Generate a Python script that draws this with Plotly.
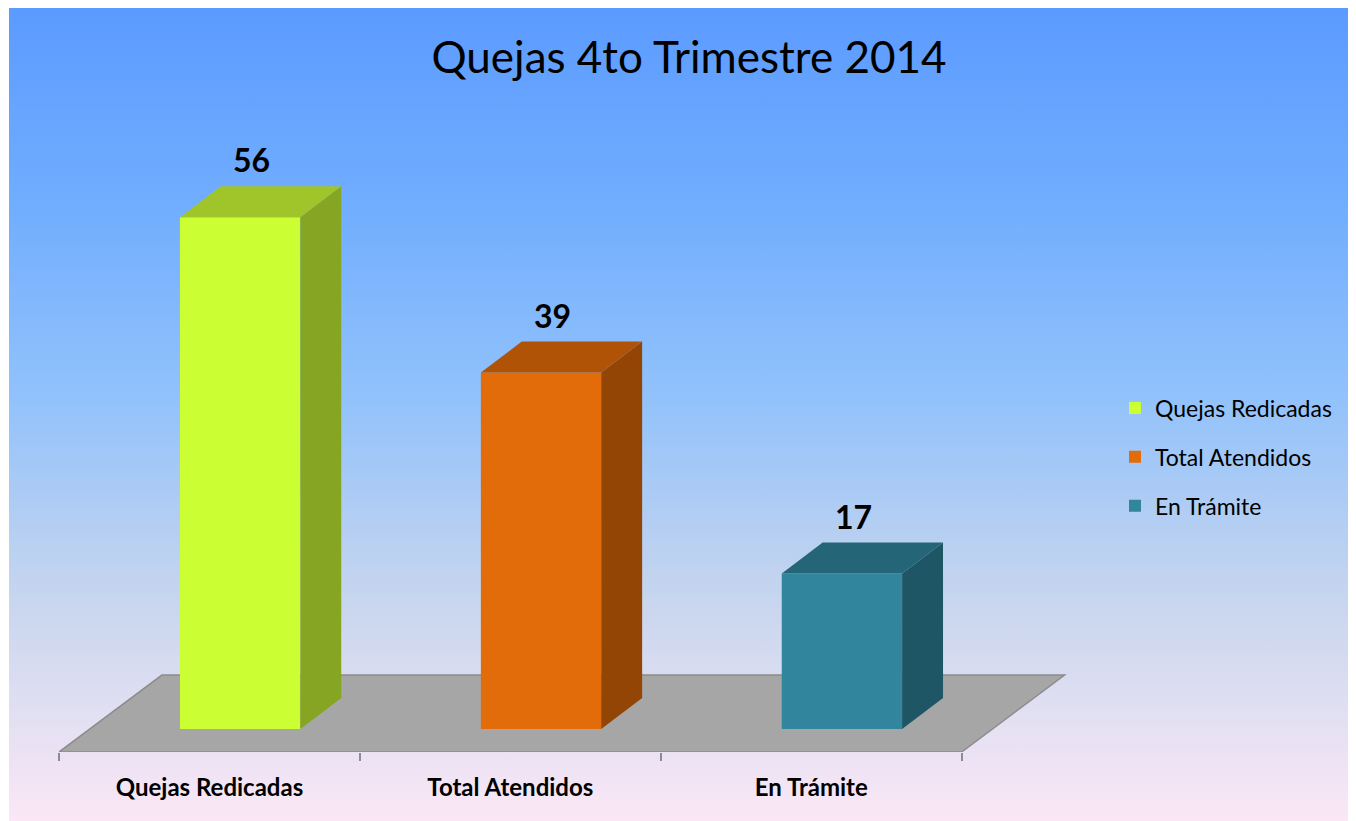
import base64
import plotly.graph_objects as go

# ---------------- data ----------------
categories = ["Quejas Redicadas", "Total Atendidos", "En Trámite"]
values = [56, 39, 17]
title_text = "Quejas 4to Trimestre 2014"

# ---------------- styles ----------------
front_colors = ["#ccff33", "#e36c0a", "#31859c"]
side_colors = ["#86a522", "#934505", "#1f5666"]
top_colors = ["#a0c52a", "#b05306", "#246678"]
FONT = "Lato"

# 3-D look geometry (axis units)
BAR_W = 0.40
BAR_OFFSET = -0.098          # left edge of front face relative to category centre
BASE = 2.52                  # bars stand a little behind the floor's front edge
DX, DY = 0.136, 3.39         # bar depth
FLOOR_DX, FLOOR_DY = 0.342, 8.42
LABEL_DX = 0.14

# page has an 8px body margin, so the figure is laid out in page coords - 8
OFF = 8
W, H = 1356 - OFF, 821 - OFF
ML, MR, MT, MB = 59 - OFF, 289, 68 - OFF, 69
X_RANGE = [-0.5, 2.85]
Y_RANGE = [0, 74.84]

fig = go.Figure()

shapes = []
n = len(categories)
floor_path = (f"M {-0.5},0 L {n - 0.5},0 L {n - 0.5 + FLOOR_DX},{FLOOR_DY} "
              f"L {-0.5 + FLOOR_DX},{FLOOR_DY} Z")
shapes.append(dict(type="path", path=floor_path, xref="x", yref="y",
                   fillcolor="#a6a6a6", line=dict(color="#8c8c8c", width=1.5),
                   layer="below"))

annotations = []
for i, (cat, v) in enumerate(zip(categories, values)):
    fig.add_trace(go.Bar(
        x=[i], y=[v], base=BASE, width=BAR_W, offset=BAR_OFFSET,
        name=cat, legendgroup=cat,
        marker=dict(color=front_colors[i], line=dict(width=0)),
        hovertemplate=f"{cat}: %{{y}}<extra></extra>",
    ))
    x0 = i + BAR_OFFSET
    x1 = x0 + BAR_W
    yb = BASE
    yt = BASE + v
    side = (f"M {x1},{yb} L {x1},{yt} L {x1 + DX},{yt + DY} "
            f"L {x1 + DX},{yb + DY} Z")
    top = (f"M {x0},{yt} L {x1},{yt} L {x1 + DX},{yt + DY} "
           f"L {x0 + DX},{yt + DY} Z")
    shapes.append(dict(type="path", path=side, xref="x", yref="y",
                       fillcolor=side_colors[i], line=dict(width=0), layer="above"))
    shapes.append(dict(type="path", path=top, xref="x", yref="y",
                       fillcolor=top_colors[i], line=dict(width=0), layer="above"))
    annotations.append(dict(
        x=i + LABEL_DX, y=yt + DY, xref="x", yref="y", text=f"<b>{v}</b>",
        showarrow=False, yanchor="bottom", yshift=5,
        font=dict(family=FONT, size=32, color="#000000"),
    ))

svg = (
    '<svg xmlns="http://www.w3.org/2000/svg" width="100" height="100" '
    'viewBox="0 0 100 100" preserveAspectRatio="none">'
    '<defs><linearGradient id="g" x1="0" y1="0" x2="0" y2="1">'
    '<stop offset="0" stop-color="#5b9bff"/>'
    '<stop offset="0.25" stop-color="#72aefe"/>'
    '<stop offset="0.48" stop-color="#92c2fb"/>'
    '<stop offset="0.72" stop-color="#c6d5ee"/>'
    '<stop offset="0.86" stop-color="#e0dff2"/>'
    '<stop offset="1" stop-color="#fbe7f6"/>'
    '</linearGradient></defs>'
    '<rect x="0" y="0" width="100" height="100" fill="url(#g)"/></svg>'
)
src = "data:image/svg+xml;base64," + base64.b64encode(svg.encode()).decode()
pw = W - ML - MR
ph = H - MT - MB
bg_left, bg_top = 1, 0
images = [dict(
    source=src, xref="paper", yref="paper",
    x=(bg_left - ML) / pw, y=(H - MB - bg_top) / ph,
    sizex=(W - bg_left) / pw, sizey=(H - bg_top) / ph,
    xanchor="left", yanchor="top", sizing="stretch", layer="below",
)]

fig.update_layout(
    width=W, height=H,
    margin=dict(l=ML, r=MR, t=MT, b=MB, pad=0),
    paper_bgcolor="#ffffff", plot_bgcolor="rgba(0,0,0,0)",
    barmode="overlay",
    shapes=shapes, annotations=annotations, images=images,
    title=dict(text=title_text, x=(689 - OFF) / W, xref="container", xanchor="center",
               y=1 - (58 - OFF) / H, yref="container", yanchor="middle",
               font=dict(family=FONT, size=44, color="#000000")),
    legend=dict(x=(1115 - OFF - ML) / pw, y=(H - MB - (457 - OFF)) / ph, xanchor="left",
                yanchor="middle", bgcolor="rgba(0,0,0,0)", tracegroupgap=16,
                font=dict(family=FONT, size=23, color="#000000")),
    xaxis=dict(range=X_RANGE, tickvals=list(range(n)),
               ticktext=[f"<b>{c}</b>" for c in categories],
               ticks="", showgrid=False, zeroline=False, showline=False,
               tickfont=dict(family=FONT, size=24, color="#000000"),
               ticklabelstandoff=19,
               minor=dict(tickvals=[k - 0.5 for k in range(n + 1)], ticks="outside",
                          ticklen=8, tickwidth=1.5, tickcolor="#8c8c8c", showgrid=False),
               fixedrange=True),
    yaxis=dict(range=Y_RANGE, visible=False, fixedrange=True),
    showlegend=True,
)

fig.write_html("out.html")
